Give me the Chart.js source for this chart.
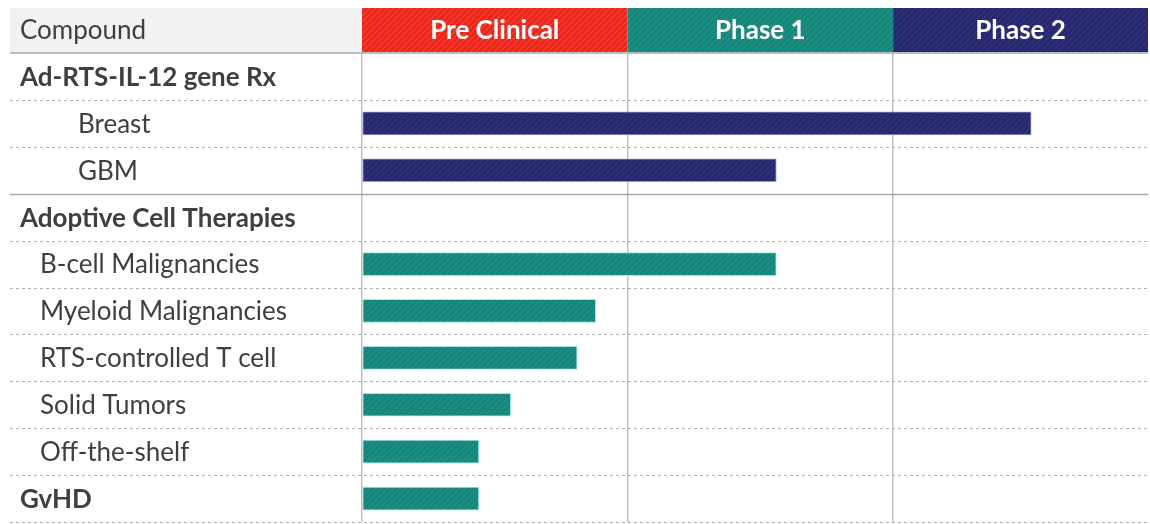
<!DOCTYPE html>
<html>
<head>
<meta charset="utf-8">
<script src="https://cdn.jsdelivr.net/npm/chart.js@4.4.1/dist/chart.umd.min.js"></script>
<style>
html,body{margin:0;padding:0;background:#fff;}
#wrap{width:1150px;height:524px;position:relative;}
</style>
</head>
<body>
<div id="wrap"><canvas id="c"></canvas></div>
<script>
// ---- data ----
const categories = ["Ad-RTS-IL-12 gene Rx","Breast","GBM","Adoptive Cell Therapies","B-cell Malignancies","Myeloid Malignancies","RTS-controlled T cell","Solid Tumors","Off-the-shelf","GvHD"];
const labelLevel = [0,2,2,0,1,1,1,1,1,0];   // 0 = section heading, 1/2 = sub item
const progress   = [null,2.52,1.56,null,1.56,0.88,0.81,0.56,0.44,0.44]; // phases completed
const barGroup   = [null,"navy","navy",null,"teal","teal","teal","teal","teal","teal"];
const phaseLabels = ["Pre Clinical","Phase 1","Phase 2"];
const phaseStarts = [0,1,2];
const phaseEnds   = [1,2,2.96];
const headerTitle = "Compound";

// ---- styles ----
const COLORS = {red:"#e8281d", teal:"#17877c", navy:"#26296f"};
const STRIPE = {red:"rgba(255,120,110,0.5)", teal:"rgba(120,200,190,0.22)", navy:"rgba(110,115,190,0.22)"};
const phaseColorKeys = ["red","teal","navy"];
const FONT = "Lato, 'Open Sans', sans-serif";
const FS = 26;

function makePattern(key){
  const s = 6;
  const cv = document.createElement('canvas');
  cv.width = s; cv.height = s;
  const g = cv.getContext('2d');
  g.fillStyle = COLORS[key];
  g.fillRect(0,0,s,s);
  g.strokeStyle = STRIPE[key];
  g.lineWidth = 1;
  g.beginPath();
  g.moveTo(0,s); g.lineTo(s,0);
  g.moveTo(-s/2,s/2); g.lineTo(s/2,-s/2);
  g.moveTo(s/2,s*1.5); g.lineTo(s*1.5,s/2);
  g.stroke();
  return document.createElement('canvas').getContext('2d').createPattern(cv,'repeat');
}
const patterns = {red:makePattern('red'), teal:makePattern('teal'), navy:makePattern('navy')};

const LEFT_EDGE = 10, RIGHT_EDGE = 1148;

const tablePlugin = {
  id:'tablePlugin',
  beforeDatasetsDraw(chart){
    const ctx = chart.ctx, y = chart.scales.y, x = chart.scales.x, ca = chart.chartArea;
    ctx.save();
    // header band
    const hTop = 8, hBot = ca.top - 1;
    ctx.fillStyle = "#f2f2f2";
    ctx.fillRect(LEFT_EDGE, hTop, ca.left - LEFT_EDGE, hBot - hTop);
    ctx.fillStyle = "#3f3f3f";
    ctx.font = FS + "px " + FONT;
    ctx.textBaseline = "middle";
    ctx.textAlign = "left";
    ctx.fillText(headerTitle, 20, (hTop+hBot)/2 + 1);
    phaseLabels.forEach((p,i)=>{
      const x0 = x.getPixelForValue(phaseStarts[i]);
      const x1 = x.getPixelForValue(phaseEnds[i]);
      ctx.fillStyle = patterns[phaseColorKeys[i]];
      ctx.fillRect(x0, hTop, x1-x0, hBot-hTop);
      ctx.fillStyle = "#ffffff";
      ctx.font = "bold " + FS + "px " + FONT;
      ctx.textAlign = "center";
      ctx.fillText(p, (x0+x1)/2, (hTop+hBot)/2 + 1);
    });
    // header bottom solid line
    ctx.strokeStyle = "#a6a6a6";
    ctx.lineWidth = 1.5;
    ctx.beginPath(); ctx.moveTo(LEFT_EDGE, ca.top); ctx.lineTo(RIGHT_EDGE, ca.top); ctx.stroke();
    // row separators
    const n = categories.length;
    for(let i=0;i<n;i++){
      const yc = y.getPixelForValue(i);
      const yb = (i < n-1) ? (yc + y.getPixelForValue(i+1))/2 : ca.bottom;
      // solid line only before a section heading that has sub items
      const solid = (i < n-1) && labelLevel[i+1] === 0 && (i+2 < n) && labelLevel[i+2] !== 0;
      ctx.beginPath();
      if(solid){
        ctx.setLineDash([]); ctx.strokeStyle = "#a6a6a6"; ctx.lineWidth = 1.5;
      } else {
        ctx.setLineDash([3,3]); ctx.strokeStyle = "#b0b0b0"; ctx.lineWidth = 1;
      }
      ctx.moveTo(LEFT_EDGE, Math.round(yb)+0.5); ctx.lineTo(RIGHT_EDGE, Math.round(yb)+0.5); ctx.stroke();
    }
    ctx.setLineDash([]);
    // row labels
    const indent = [20, 40, 78];
    categories.forEach((c,i)=>{
      const lv = labelLevel[i];
      ctx.fillStyle = "#3f3f3f";
      ctx.font = (lv===0 ? "bold " : "") + FS + "px " + FONT;
      ctx.textAlign = "left";
      ctx.textBaseline = "middle";
      ctx.fillText(c, indent[lv], y.getPixelForValue(i) + 1);
    });
    ctx.restore();
  }
};

new Chart(document.getElementById('c'), {
  type:'bar',
  data:{
    labels: categories,
    datasets:[{
      data: progress,
      backgroundColor: progress.map((v,i)=> barGroup[i] ? patterns[barGroup[i]] : 'transparent'),
      borderColor: progress.map((v,i)=> barGroup[i]==='teal' ? 'rgba(150,230,225,0.9)' : 'rgba(120,120,200,0.8)'),
      borderWidth: 1,
      borderSkipped: false,
      barThickness: 23
    }]
  },
  options:{
    indexAxis:'y',
    responsive:true,
    maintainAspectRatio:false,
    animation:false,
    layout:{padding:{left:362, top:53, right:2, bottom:2}},
    plugins:{legend:{display:false}, tooltip:{enabled:false}},
    scales:{
      x:{
        type:'linear', min:0, max:2.96,
        ticks:{display:false, stepSize:1},
        border:{display:false},
        grid:{
          drawTicks:false,
          color: c => (c.tick && c.tick.value <= 2) ? '#bfbfbf' : 'transparent',
          lineWidth: 1.5
        }
      },
      y:{
        type:'category',
        display:true,
        ticks:{display:false},
        border:{display:false},
        grid:{display:false, drawTicks:false}
      }
    }
  },
  plugins:[tablePlugin]
});
</script>
</body>
</html>
